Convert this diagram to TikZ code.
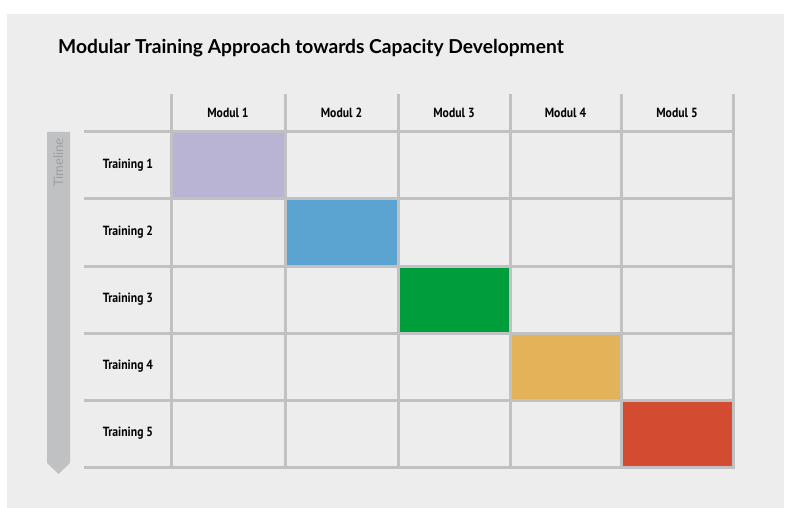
\documentclass[tikz,border=0pt]{standalone}
\usepackage{fontspec}
\setmainfont{Lato}
\newfontfamily\cellfont[FakeStretch=0.88]{PT Sans}
\usetikzlibrary{positioning}

\definecolor{bgGray}{HTML}{EDEDED}
\definecolor{lineGray}{HTML}{C0C1C3}
\definecolor{textGray}{HTML}{9C9EA1}
\definecolor{modPurple}{HTML}{B9B4D4}
\definecolor{modBlue}{HTML}{5BA3D1}
\definecolor{modGreen}{HTML}{009E3B}
\definecolor{modOrange}{HTML}{E3B35A}
\definecolor{modRed}{HTML}{D34C31}

\begin{document}
\begin{tikzpicture}[
        x=1pt, y=-1pt,
        node cell/.style = {rectangle, inner sep=0pt, minimum width=112pt, minimum height=67pt},
        node head/.style = {inner sep=1pt, text=black, font=\cellfont\bfseries\fontsize{13.3}{15}\selectfont},
        grid line/.style = {draw=lineGray, line width=3pt},
        ]
        % Background
        \useasboundingbox (0,0) rectangle (785,508);
        \fill[bgGray] (7,14) rectangle (784,508);

        % Title
        \node[anchor=west, inner sep=0pt, font=\bfseries\fontsize{19.2}{22}\selectfont] (title) at (58,48)
            {Modular Training Approach towards Capacity Development};

        % Coloured cells
        \node[node cell, fill=modPurple, minimum width=114pt] (M1T1) at (228,165.5) {};
        \node[node cell, fill=modBlue, minimum width=113pt] (M2T2) at (341.5,232.5) {};
        \node[node cell, fill=modGreen] (M3T3) at (454,299.5) {};
        \node[node cell, fill=modOrange, minimum width=111pt] (M4T4) at (565.5,366.5) {};
        \node[node cell, fill=modRed] (M5T5) at (677,433.5) {};

        % Grid
        \foreach \x in {171,285,398,510,621,733}
            \draw[grid line] (\x,94) -- (\x,467);
        \foreach \y in {132,199,266,333,400,467}
            \draw[grid line] (84,\y) -- (734.5,\y);

        % Module heads
        \node[node head] (M1) at (228,113) {Modul 1};
        \node[node head] (M2) at (341.5,113) {Modul 2};
        \node[node head] (M3) at (454,113) {Modul 3};
        \node[node head] (M4) at (565.5,113) {Modul 4};
        \node[node head] (M5) at (677,113) {Modul 5};

        % Training rows
        \node[node head] (T1) at (128,165.5) {Training 1};
        \node[node head] (T2) at (128,232.5) {Training 2};
        \node[node head] (T3) at (128,299.5) {Training 3};
        \node[node head] (T4) at (128,366.5) {Training 4};
        \node[node head] (T5) at (128,433.5) {Training 5};

        % Timeline arrow
        \fill[lineGray] (47,132) -- (70,132) -- (70,463) -- (58.5,474) -- (47,463) -- cycle;
        \node[rotate=90, anchor=east, inner sep=0pt, text=textGray, font=\fontsize{13}{15}\selectfont]
            (timeline) at (58.5,138) {Timeline};
    \end{tikzpicture}
\end{document}
